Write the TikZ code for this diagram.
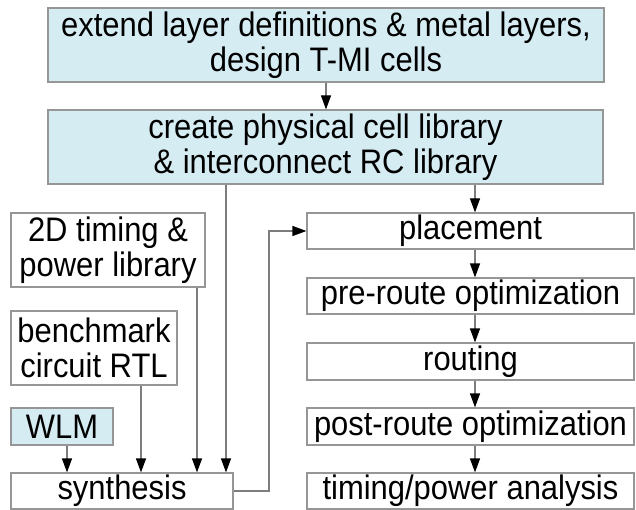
\documentclass[tikz,border=0pt]{standalone}
\usepackage{fontspec}
\setmainfont{Liberation Sans}[FakeStretch=0.91]
\usetikzlibrary{arrows.meta}
\definecolor{lightblue}{RGB}{213,236,243}
\definecolor{boxgray}{RGB}{150,150,150}
\definecolor{linegray}{RGB}{125,125,125}
\tikzset{
  box/.style={draw=boxgray, line width=1.2pt, inner sep=0pt, align=center,
    font=\fontsize{34}{35}\selectfont},
  bluebox/.style={box, fill=lightblue},
  arr/.style={draw=linegray, line width=1.2pt,
    -{Triangle[length=14pt,width=10pt,color=black]}},
  conn/.style={draw=linegray, line width=1.2pt}
}
\begin{document}
\begin{tikzpicture}[x=1pt,y=-1pt]
\useasboundingbox (0,0) rectangle (636,510);
% top boxes
\node[bluebox, minimum width=556pt, minimum height=74pt] (b1) at (326,45)
  {extend layer definitions \& metal layers,\\design T-MI cells};
\node[bluebox, minimum width=555pt, minimum height=74pt] (b2) at (325.5,147)
  {create physical cell library\\\& interconnect RC library};
% left column
\node[box, minimum width=194pt, minimum height=74pt] (td) at (108,250)
  {2D timing \&\\power library};
\node[box, minimum width=166pt, minimum height=74pt] (bm) at (94,348)
  {benchmark\\circuit RTL};
\node[bluebox, minimum width=102pt, minimum height=37pt] (wlm) at (62,426.5) {WLM};
\node[box, minimum width=222pt, minimum height=36pt] (syn) at (122,491) {synthesis};
% right column
\node[box, minimum width=327pt, minimum height=36pt] (pl) at (470.5,231) {placement};
\node[box, minimum width=327pt, minimum height=36pt] (pr) at (470.5,296) {pre-route optimization};
\node[box, minimum width=327pt, minimum height=37pt] (ro) at (470.5,361.5) {routing};
\node[box, minimum width=327pt, minimum height=37pt] (po) at (470.5,426.5) {post-route optimization};
\node[box, minimum width=327pt, minimum height=36pt] (ta) at (470.5,491) {timing/power analysis};
% helper columns
\coordinate (xr) at (475,0);
\coordinate (xb) at (226,0);
\coordinate (xt) at (197,0);
\coordinate (xm) at (141,0);
\coordinate (xw) at (67,0);
\coordinate (xk) at (269,0);
% connectors
\draw[arr] (b1.south) -- (b2.north -| b1.south);
\draw[arr] (b2.south -| xr) -- (pl.north -| xr);
\draw[arr] (pl.south -| xr) -- (pr.north -| xr);
\draw[arr] (pr.south -| xr) -- (ro.north -| xr);
\draw[arr] (ro.south -| xr) -- (po.north -| xr);
\draw[arr] (po.south -| xr) -- (ta.north -| xr);
\draw[arr] (b2.south -| xb) -- (syn.north -| xb);
\draw[arr] (td.south -| xt) -- (syn.north -| xt);
\draw[arr] (bm.south -| xm) -- (syn.north -| xm);
\draw[arr] (wlm.south -| xw) -- (syn.north -| xw);
\draw[arr] (syn.east) -- (syn.east -| xk) |- (pl.west);
\end{tikzpicture}
\end{document}
